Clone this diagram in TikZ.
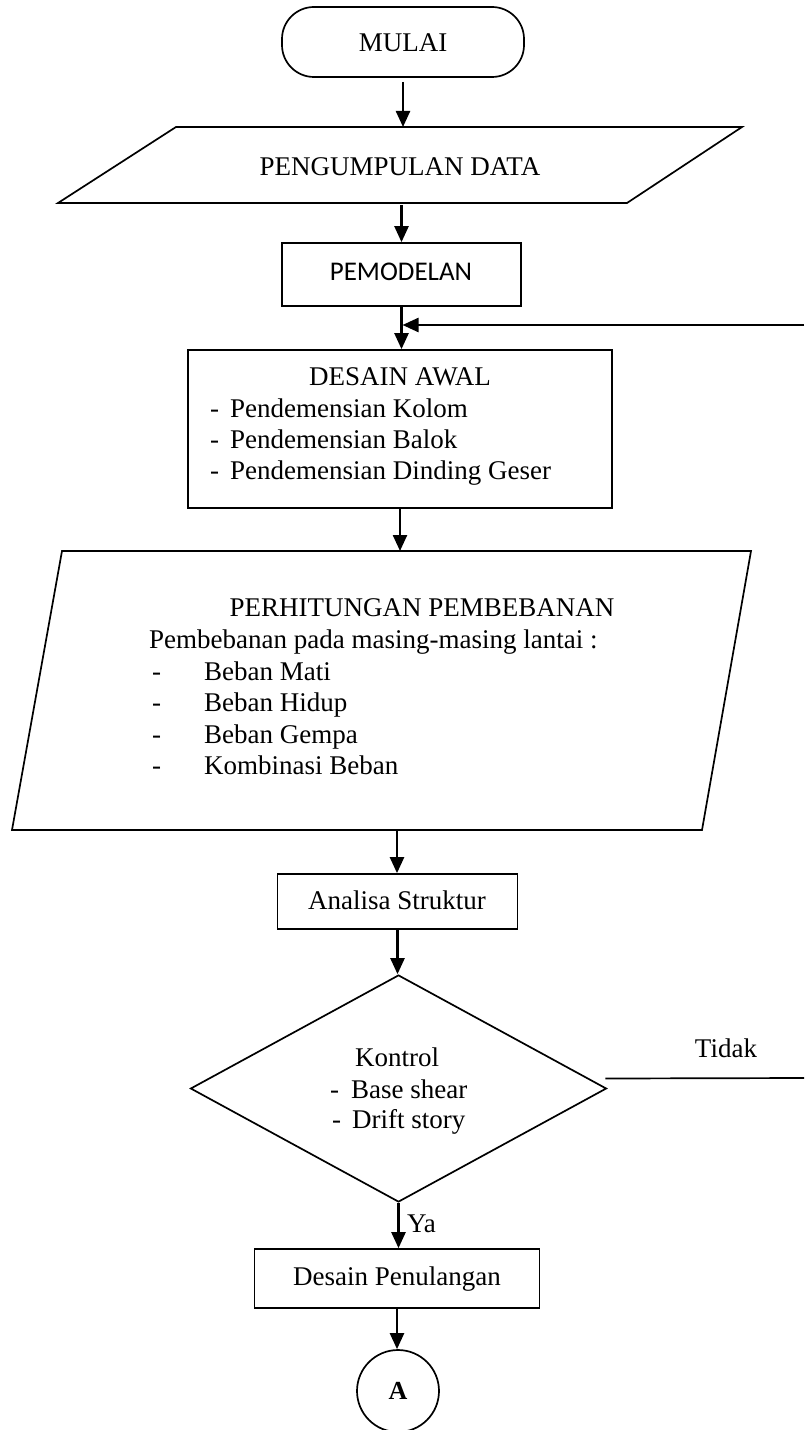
\documentclass[tikz,border=0pt]{standalone}
\usepackage{fontspec}
\setmainfont{Liberation Serif}
\newfontfamily\calibrifont{Carlito}
\usetikzlibrary{arrows.meta,shapes.geometric}
\begin{document}
\begin{tikzpicture}[x=1bp,y=-1bp,
  shp/.style={draw=black,line width=1.7bp},
  boxnode/.style={shp,rectangle,inner sep=0pt},
  arr/.style={line width=2.4bp,-{Triangle[length=16bp,width=14bp]}},
  txt/.style={inner sep=0pt,anchor=base,font=\fontsize{27bp}{31bp}\selectfont},
  txtw/.style={txt,anchor=base west}]
\useasboundingbox (0,0) rectangle (804,1430);

% ---- shapes ----
\node[boxnode, rounded corners=32bp, minimum width=242bp, minimum height=70bp] (mulai) at (403,42) {};
\coordinate (pgdTL) at (176,127); \coordinate (pgdTR) at (742,127);
\coordinate (pgdBR) at (627,203); \coordinate (pgdBL) at (58,203);
\draw[shp] (pgdTL) -- (pgdTR) -- (pgdBR) -- (pgdBL) -- cycle;
\coordinate (pgdT) at (403,127); \coordinate (pgdB) at (402,205);

\node[boxnode, minimum width=239bp, minimum height=63bp] (pem) at (401.5,274.5) {};
\node[boxnode, minimum width=424bp, minimum height=158bp] (des) at (400,429) {};

\coordinate (perhTL) at (62,551); \coordinate (perhTR) at (751,551);
\coordinate (perhBR) at (702,830); \coordinate (perhBL) at (12,830);
\draw[shp] (perhTL) -- (perhTR) -- (perhBR) -- (perhBL) -- cycle;
\coordinate (perhT) at (400,551); \coordinate (perhB) at (397,830);

\node[boxnode, minimum width=240bp, minimum height=55bp] (ana) at (397.5,901.5) {};
\node[diamond, shp, inner sep=0pt, minimum width=416bp, minimum height=227bp] (dia) at (398.5,1088.5) {};
\node[boxnode, minimum width=285bp, minimum height=59bp] (dpen) at (397,1278.5) {};
\node[circle, shp, inner sep=0pt, minimum size=82bp,
      font=\bfseries\fontsize{26bp}{30bp}\selectfont] (a) at (398,1391) {A};

% ---- texts ----
\node[txt] (tmulai) at (403,52) {MULAI};
\node[txt] (tpgd) at (400,176) {PENGUMPULAN DATA};
\node[txt, font={\calibrifont\fontsize{27bp}{31bp}\selectfont}] (tpem) at (401,280) {PEMODELAN};

\node[txt] (tdes) at (400,385) {DESAIN AWAL};
\node[txtw] (d1) at (210,417) {-}; \node[txtw] (d1t) at (230,417) {Pendemensian Kolom};
\node[txtw] (d2) at (210,448) {-}; \node[txtw] (d2t) at (230,448) {Pendemensian Balok};
\node[txtw] (d3) at (210,479) {-}; \node[txtw] (d3t) at (230,479) {Pendemensian Dinding Geser};

\node[txt] (tperh) at (422,616) {PERHITUNGAN PEMBEBANAN};
\node[txtw] (tp0) at (149,648) {Pembebanan pada masing-masing lantai :};
\node[txtw] (p1) at (152,680) {-}; \node[txtw] (p1t) at (204,680) {Beban Mati};
\node[txtw] (p2) at (152,711) {-}; \node[txtw] (p2t) at (204,711) {Beban Hidup};
\node[txtw] (p3) at (152,743) {-}; \node[txtw] (p3t) at (204,743) {Beban Gempa};
\node[txtw] (p4) at (152,774) {-}; \node[txtw] (p4t) at (204,774) {Kombinasi Beban};

\node[txt] (tana) at (397,909) {Analisa Struktur};

\node[txt] (tkon) at (397,1066) {Kontrol};
\node[txtw] (k1) at (330,1098) {-}; \node[txtw] (k1t) at (351,1098) {Base shear};
\node[txtw] (k2) at (332,1128) {-}; \node[txtw] (k2t) at (352,1128) {Drift story};

\node[txt] (ttidak) at (726,1057) {Tidak};
\node[txtw] (tya) at (407,1232) {Ya};
\node[txt] (tdpen) at (397,1285) {Desain Penulangan};

% ---- connectors ----
\draw[arr] ([yshift=-4bp]mulai.south) -- (pgdT);
\draw[arr] (pem.north |- pgdB) -- (pem.north);
\draw[arr] (pem.south) -- (pem.south |- des.north);
\coordinate (loopR) at (804,325);
\draw[arr, shorten >=1bp] (loopR) -- (loopR -| pem.south);
\draw[arr] (des.south) -- (des.south |- perhT);
\draw[arr] (perhB) -- (perhB |- ana.north);
\draw[arr] (ana.south) -- (ana.south |- dia.north);
\coordinate (tidakR) at (804,1078);
\draw[shp] ([xshift=-2bp,yshift=10bp]dia.east) -- (tidakR);
\draw[arr] (dia.south) -- (dia.south |- dpen.north);
\draw[arr] (dpen.south) -- (dpen.south |- a.north);
\end{tikzpicture}
\end{document}
